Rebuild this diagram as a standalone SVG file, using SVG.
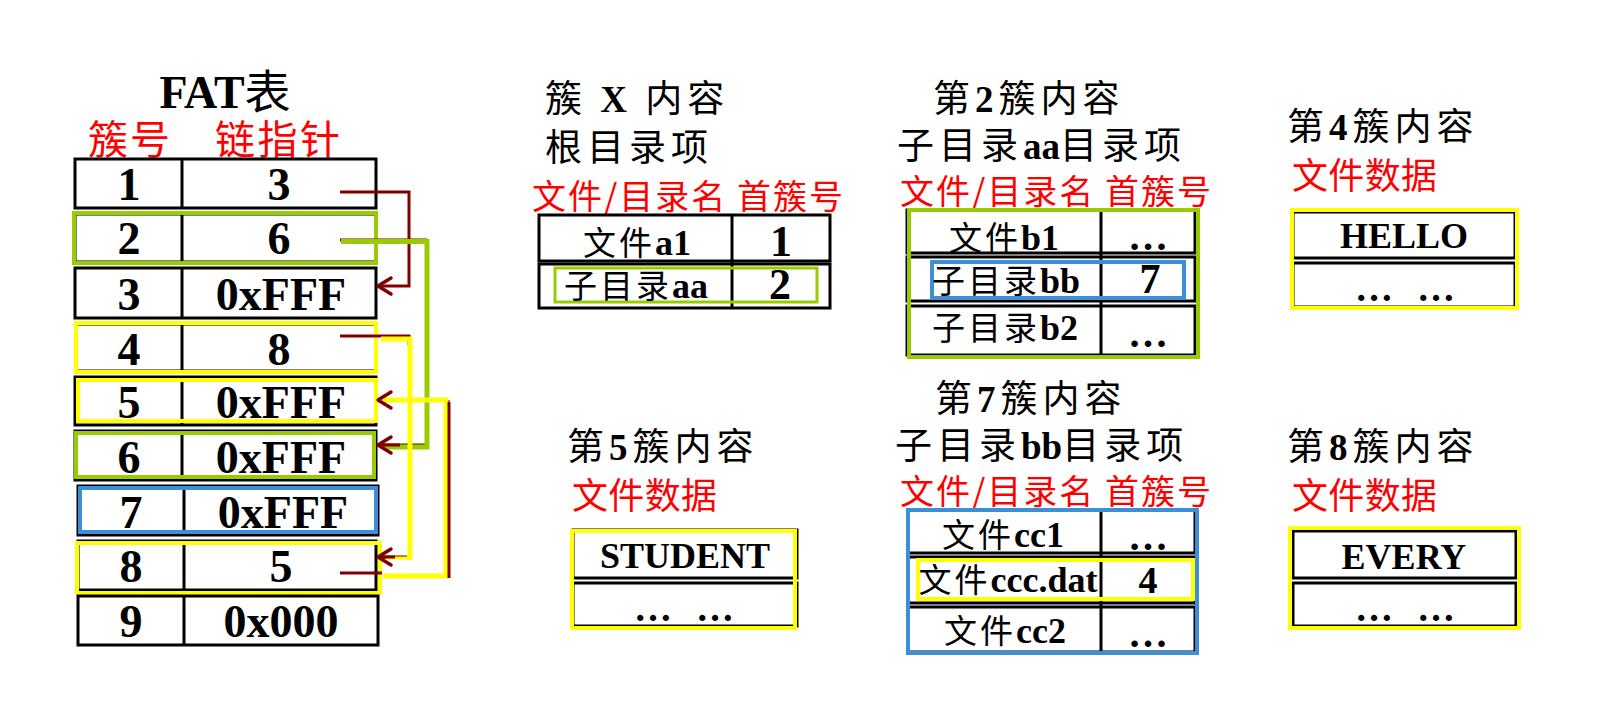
<svg xmlns="http://www.w3.org/2000/svg" width="1616" height="719" viewBox="0 0 1616 719">
<defs>
<style>
.k{font-family:"Noto Sans CJK SC",sans-serif;fill:#000}
.t{font-family:"Liberation Serif","Noto Sans CJK SC",serif;font-weight:bold}
.red{fill:#FF0000}
.ti{font-size:37px;letter-spacing:5px}
.rh{font-size:34px;letter-spacing:2px}
.ce{font-size:33px;letter-spacing:3px;text-anchor:middle}
.ce .t{font-size:36px;letter-spacing:0}
.box{fill:#fff;stroke:#000;stroke-width:3}
.ln{stroke:#000;stroke-width:3}
.g{fill:none;stroke:#99CC00;stroke-width:4}
.y{fill:none;stroke:#FFFF00;stroke-width:4}
.b{fill:none;stroke:#3B8FD9;stroke-width:4}
.n{font-family:"Liberation Serif",serif;font-weight:bold;font-size:46px;text-anchor:middle}
.dr{fill:none;stroke:#800000;stroke-width:3}
.ah{fill:none;stroke:#800000;stroke-width:3.5;stroke-linecap:round;stroke-linejoin:round}
</style>
</defs>
<rect width="1616" height="719" fill="#fff"/>

<g id="fat-title">
<text class="k" x="225" y="108" font-size="46" text-anchor="middle"><tspan class="t">FAT</tspan>表</text>
<text class="k red" x="88" y="154" font-size="40" textLength="82">簇号</text>
<text class="k red" x="215" y="154" font-size="40" textLength="125">链指针</text>
</g>

<g id="fat-row-1">
<rect class="box" x="75" y="159" width="301" height="49"/><line class="ln" x1="182" y1="159" x2="182" y2="208"/>
<text class="n" x="129" y="200" font-size="42">1</text><text class="n" x="279" y="200" font-size="42">3</text>
</g>
<g id="fat-row-2">
<rect class="box" x="75" y="214" width="301" height="48"/><line class="ln" x1="182" y1="214" x2="182" y2="262"/>
<rect class="g" x="74" y="213" width="302" height="50"/>
<text class="n" x="129" y="254">2</text><text class="n" x="279" y="254">6</text>
</g>
<g id="fat-row-3">
<rect class="box" x="75" y="268" width="301" height="50"/><line class="ln" x1="182" y1="268" x2="182" y2="318"/>
<text class="n" x="129" y="310">3</text><text class="n" x="281" y="310">0xFFF</text>
</g>
<g id="fat-row-4">
<rect class="box" x="76" y="324" width="300" height="47"/><line class="ln" x1="182" y1="324" x2="182" y2="371"/>
<rect class="y" x="76" y="323" width="300" height="49"/>
<text class="n" x="129" y="365">4</text><text class="n" x="279" y="365">8</text>
</g>
<g id="fat-row-5">
<rect class="box" x="75" y="377" width="301" height="48"/><line class="ln" x1="182" y1="377" x2="182" y2="425"/>
<rect class="y" x="78" y="380" width="298" height="41"/>
<text class="n" x="129" y="418">5</text><text class="n" x="281" y="418">0xFFF</text>
</g>
<g id="fat-row-6">
<rect class="box" x="75" y="431" width="301" height="49"/><line class="ln" x1="182" y1="431" x2="182" y2="480"/>
<rect class="g" x="76" y="433" width="298" height="44"/>
<text class="n" x="129" y="473">6</text><text class="n" x="281" y="473">0xFFF</text>
</g>
<g id="fat-row-7">
<rect class="box" x="78" y="486" width="300" height="49"/><line class="ln" x1="184" y1="486" x2="184" y2="535"/>
<rect class="b" x="80" y="488" width="296" height="44"/>
<text class="n" x="131" y="528">7</text><text class="n" x="283" y="528">0xFFF</text>
</g>
<g id="fat-row-8">
<rect class="box" x="78" y="541" width="298" height="49"/><line class="ln" x1="184" y1="541" x2="184" y2="590"/>
<rect class="y" x="77" y="543" width="303" height="50"/>
<text class="n" x="131" y="582">8</text><text class="n" x="281" y="582">5</text>
</g>
<g id="fat-row-9">
<rect class="box" x="78" y="596" width="300" height="49"/><line class="ln" x1="184" y1="596" x2="184" y2="645"/>
<text class="n" x="131" y="637">9</text><text class="n" x="281" y="637">0x000</text>
</g>

<g id="connectors">
<path class="dr" d="M340,192 H409 V286 H380"/>
<path class="dr" d="M340,240 H427 M425,445 H381"/>
<path d="M341,241.5 H427 V447 H384" fill="none" stroke="#99CC00" stroke-width="5"/>
<path class="dr" d="M400,445 H381"/>
<path class="dr" d="M340,336 H409 V345 M407,557 H381"/>
<path d="M381,339 H410 V560" fill="none" stroke="#FFFF00" stroke-width="5"/>
<path d="M410,558 H386" fill="none" stroke="#FFFF00" stroke-width="3"/>
<path class="dr" d="M395,557 H381"/>
<path class="dr" d="M340,573 H382 M448,576 V400"/>
<path d="M383,576 H446 V400 H384" fill="none" stroke="#FFFF00" stroke-width="5"/>
<path class="dr" d="M449,578 V402"/>
<polyline class="ah" points="391,278 378,286 391,294"/>
<polyline class="ah" points="391,437 378,445 391,453"/>
<polyline class="ah" points="391,549 378,557 391,565"/>
<polyline class="ah" points="391,392 378,400 391,408"/>
</g>

<g id="cluster-x">
<text class="k ti" x="545" y="112">簇 <tspan class="t">X</tspan> 内容</text>
<text class="k ti" x="545" y="161">根目录项</text>
<text class="k red rh" x="532" y="209">文件/目录名 首簇号</text>
<rect class="box" x="539" y="215" width="291" height="46"/>
<rect class="box" x="539" y="264" width="291" height="44"/>
<line class="ln" x1="732" y1="215" x2="732" y2="308"/>
<text class="k ce" x="637" y="255">文件<tspan class="t">a1</tspan></text>
<text class="t" x="781" y="256" font-size="44" text-anchor="middle">1</text>
<rect x="555" y="268" width="262" height="34" fill="none" stroke="#99CC00" stroke-width="3"/>
<text class="k ce" x="636" y="298">子目录<tspan class="t">aa</tspan></text>
<text class="t" x="780" y="299" font-size="44" text-anchor="middle">2</text>
</g>

<g id="cluster-2">
<text class="k ti" x="933" y="112">第<tspan class="t">2</tspan>簇内容</text>
<text class="k ti" x="897" y="159">子目录<tspan class="t" letter-spacing="0">aa</tspan>目录项</text>
<text class="k red rh" x="900" y="204">文件/目录名 首簇号</text>
<rect class="box" x="907" y="210" width="288" height="43"/>
<rect class="box" x="907" y="257" width="288" height="44"/>
<rect class="box" x="907" y="306" width="288" height="49"/>
<line class="ln" x1="1101" y1="210" x2="1101" y2="355"/>
<rect class="g" x="909" y="210" width="289" height="147"/>
<text class="k ce" x="1004" y="250">文件<tspan class="t">b1</tspan></text>
<text class="t" x="1148" y="250" font-size="40" text-anchor="middle">…</text>
<rect class="b" x="932" y="262" width="252" height="36" stroke-width="3"/>
<text class="k ce" x="1006" y="293">子目录<tspan class="t">bb</tspan></text>
<text class="t" x="1150" y="293" font-size="42" text-anchor="middle">7</text>
<text class="k ce" x="1005" y="340">子目录<tspan class="t">b2</tspan></text>
<text class="t" x="1148" y="347" font-size="40" text-anchor="middle">…</text>
</g>

<g id="cluster-4">
<text class="k ti" x="1287" y="140">第<tspan class="t">4</tspan>簇内容</text>
<text class="k red" x="1292" y="189" font-size="36" textLength="145">文件数据</text>
<rect class="box" x="1293" y="212" width="222" height="46"/>
<rect class="box" x="1293" y="263" width="222" height="44"/>
<rect class="y" x="1292" y="210" width="225" height="98"/>
<text class="t" x="1404" y="248" font-size="36" text-anchor="middle">HELLO</text>
<text class="t" x="1405" y="301" font-size="38" text-anchor="middle" textLength="100">… …</text>
</g>

<g id="cluster-5">
<text class="k ti" x="567" y="460">第<tspan class="t">5</tspan>簇内容</text>
<text class="k red" x="572" y="509" font-size="36" textLength="145">文件数据</text>
<rect class="box" x="573" y="530" width="224" height="48"/>
<rect class="box" x="573" y="583" width="224" height="43"/>
<rect class="y" x="572" y="531" width="223" height="97"/>
<text class="t" x="685" y="568" font-size="36" text-anchor="middle">STUDENT</text>
<text class="t" x="684" y="621" font-size="38" text-anchor="middle" textLength="100">… …</text>
</g>

<g id="cluster-7">
<text class="k ti" x="935" y="412">第<tspan class="t">7</tspan>簇内容</text>
<text class="k ti" x="895" y="459">子目录<tspan class="t" letter-spacing="0">bb</tspan>目录项</text>
<text class="k red rh" x="900" y="504">文件/目录名 首簇号</text>
<rect class="box" x="908" y="510" width="287" height="43"/>
<rect class="box" x="908" y="557" width="287" height="46"/>
<rect class="box" x="908" y="607" width="287" height="45"/>
<line class="ln" x1="1101" y1="510" x2="1101" y2="652"/>
<rect class="b" x="908" y="510" width="289" height="143"/>
<text class="k ce" x="1003" y="547">文件<tspan class="t">cc1</tspan></text>
<text class="t" x="1148" y="550" font-size="40" text-anchor="middle">…</text>
<rect class="y" x="918" y="560" width="275" height="39" stroke-width="3"/>
<text class="k ce" x="1008" y="592">文件<tspan class="t">ccc.dat</tspan></text>
<text class="t" x="1148" y="593" font-size="38" text-anchor="middle">4</text>
<text class="k ce" x="1005" y="643">文件<tspan class="t">cc2</tspan></text>
<text class="t" x="1148" y="647" font-size="40" text-anchor="middle">…</text>
</g>

<g id="cluster-8">
<text class="k ti" x="1287" y="460">第<tspan class="t">8</tspan>簇内容</text>
<text class="k red" x="1292" y="509" font-size="36" textLength="145">文件数据</text>
<rect class="box" x="1293" y="531" width="223" height="47"/>
<rect class="box" x="1293" y="583" width="223" height="43"/>
<rect class="y" x="1290" y="528" width="229" height="100"/>
<text class="t" x="1404" y="569" font-size="36" text-anchor="middle">EVERY</text>
<text class="t" x="1405" y="621" font-size="38" text-anchor="middle" textLength="100">… …</text>
</g>
</svg>
